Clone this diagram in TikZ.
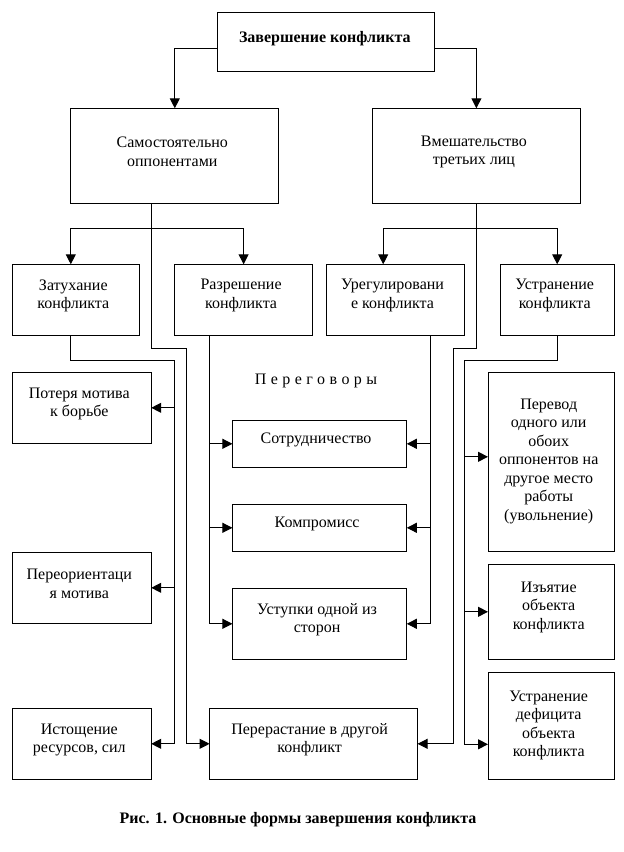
\documentclass[tikz,border=0pt]{standalone}
\usepackage{fontspec}
\setmainfont{Liberation Serif}
\usetikzlibrary{arrows.meta}
\tikzset{
  box/.style={draw, line width=1pt, inner sep=0pt, outer sep=0pt},
  txt/.style={align=center, inner sep=0pt, font=\fontsize{16}{18.5}\selectfont},
  lin/.style={line width=1pt},
  arr/.style={lin, -{Triangle[length=10pt,width=10pt]}},
}
% #1 extra text options, #2 name, #3 x1, #4 y1, #5 x2, #6 y2, #7 text
\newcommand\mybox[7][]{%
  \node[box, minimum width={#5-#3}, minimum height={#6-#4}] (#2) at ({(#3+#5)/2},{(#4+#6)/2}) {};
  \node[txt, xshift=-2.5pt, yshift=4pt, #1] at (#2.center) {#7};
}
\begin{document}
\begin{tikzpicture}[x=1pt,y=-1pt]
\useasboundingbox (0,0) rectangle (624,852);

\mybox[yshift=-1pt,xshift=1.5pt]{top}{217.6}{12.7}{434}{71.3}{\textbf{Завершение конфликта}}
\mybox{sam}{70.8}{108.3}{278.8}{203.3}{Самостоятельно\\оппонентами}
\mybox{vm}{372.4}{108.3}{580.4}{203.3}{Вмешательство\\третьих лиц}
\mybox{zat}{12.4}{264.3}{139.2}{335}{Затухание\\конфликта}
\mybox{raz}{174.4}{264.3}{312.8}{335}{Разрешение\\конфликта}
\mybox{ureg}{326}{264.3}{464}{335}{Урегулировани\\е конфликта}
\mybox{ustr}{500}{264.3}{614.4}{335}{Устранение\\конфликта}
\mybox{pot}{12.4}{372.3}{151.2}{443.3}{Потеря мотива\\к борьбе}
\mybox{pereor}{12.4}{552.3}{151.2}{623.3}{Переориентаци\\я мотива}
\mybox{ist}{12.4}{708.3}{151.2}{779.3}{Истощение\\ресурсов, сил}
\mybox[xshift=-1pt]{sotr}{232.4}{420.3}{406.8}{467.3}{Сотрудничество}
\mybox{komp}{232.4}{504.3}{406.8}{551.3}{Компромисс}
\mybox{ust}{232.4}{588.3}{406.8}{659.3}{Уступки одной из\\сторон}
\mybox[xshift=-1.5pt]{perer}{209.6}{708.3}{417.6}{779.3}{Перерастание в другой\\конфликт}
\mybox[yshift=-3.4pt]{perev}{488}{372.3}{614.4}{551.3}{Перевод\\одного или\\обоих\\оппонентов на\\другое место\\работы\\(увольнение)}
\mybox[yshift=0.7pt]{izyat}{488}{564.3}{614.4}{659.3}{Изъятие\\объекта\\конфликта}
\mybox[yshift=-3.6pt]{defic}{488}{672.3}{614.4}{779.3}{Устранение\\дефицита\\объекта\\конфликта}

\node[txt, font=\fontsize{16}{18.5}\selectfont\addfontfeature{LetterSpace=28}] (neg) at (316,381) {Переговоры};
\node[txt, font=\fontsize{16}{18.5}\selectfont\bfseries] (cap) at (298,819.3) {Рис. 1. Основные формы завершения конфликта};

% top level
\draw[arr] ([yshift=-6.3pt]top.west) -| (sam.north);
\draw[arr] ([yshift=-6.3pt]top.east) -| (vm.north);

% left branch
\coordinate (sB) at (151.2,228.7);
\coordinate (sL) at (186.4,348.3);
\draw[arr] (sam.south -| sB) |- (sL) |- (perer.west);
\draw[arr] (sB) -| ([xshift=-5pt]zat.north);
\draw[arr] (sB) -| (raz.north);

% right branch
\coordinate (vB) at (476.8,228.7);
\coordinate (vL) at (453.6,348.3);
\draw[arr] (vm.south -| vB) |- (vL) |- (perer.east);
\draw[arr] (vB) -| ([xshift=-11.8pt]ureg.north);
\draw[arr] (vB) -| (ustr.north);

% Затухание
\coordinate (zL) at (174.4,360);
\draw[arr] ([xshift=-5pt]zat.south) |- (zL) |- (ist.east);
\draw[arr] (zL |- pot.east) -- (pot.east);
\draw[arr] (zL |- pereor.east) -- (pereor.east);

% Разрешение
\coordinate (rL) at (209.6,400);
\draw[arr] ([xshift=-34pt]raz.south) |- (ust.west);
\draw[arr] (rL |- sotr.west) -- (sotr.west);
\draw[arr] (rL |- komp.west) -- (komp.west);

% Урегулирование
\coordinate (uL) at (430.8,400);
\draw[arr] ([xshift=35.8pt]ureg.south) |- (ust.east);
\draw[arr] (uL |- sotr.east) -- (sotr.east);
\draw[arr] (uL |- komp.east) -- (komp.east);

% Устранение
\coordinate (eL) at (464.8,360);
\draw[arr] (ustr.south) |- (eL) |- ([yshift=-18.5pt]defic.west);
\draw[arr] (eL |- perev.west) ++(0,-5) -- ([yshift=5pt]perev.west);
\draw[arr] (eL |- izyat.west) -- (izyat.west);
\end{tikzpicture}
\end{document}
